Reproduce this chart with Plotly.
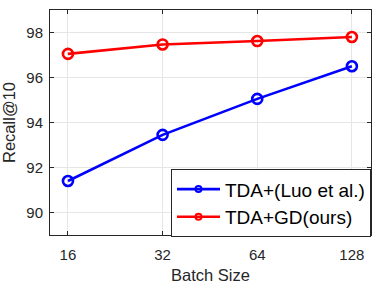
import plotly.graph_objects as go

batch_sizes = [16, 32, 64, 128]
tick_labels = ["16", "32", "64", "128"]
y_ticks = [90, 92, 94, 96, 98]
tda_luo = [91.4, 93.45, 95.05, 96.5]
tda_gd = [97.05, 97.47, 97.62, 97.8]

FONT = "Liberation Sans, Arial, Helvetica"
fig = go.Figure()
series = [("TDA+(Luo et al.)", tda_luo, "#0000ff"), ("TDA+GD(ours)", tda_gd, "#ff0000")]
for name, vals, col in series:
    fig.add_trace(go.Scatter(x=batch_sizes, y=vals, mode="lines+markers", name=name,
                             showlegend=False,
                             line=dict(color=col, width=2.6),
                             marker=dict(symbol="circle-open", size=10, color=col, line=dict(width=2.6))))
for name, vals, col in series:
    # legend entry with the smaller legend marker
    fig.add_trace(go.Scatter(x=[None], y=[None], mode="lines+markers", name=name,
                             showlegend=True,
                             line=dict(color=col, width=2.6),
                             marker=dict(symbol="circle-open", size=6, color=col, line=dict(width=2))))

axis_common = dict(showline=True, linecolor="#262626", linewidth=1, mirror="ticks",
                   ticks="inside", ticklen=4, tickcolor="#262626", automargin=False,
                   showgrid=True, gridcolor="#e6e6e6", gridwidth=1, zeroline=False,
                   tickfont=dict(family=FONT, size=15, color="#262626"))

fig.update_layout(
    width=382, height=286,
    margin=dict(l=50, r=11, t=10, b=51),
    paper_bgcolor="white", plot_bgcolor="white",
    xaxis=dict(type="log", range=[1.147, 2.168], tickvals=batch_sizes, ticktext=tick_labels,
               ticklabelstandoff=6,
               title=dict(text="Batch Size", font=dict(family=FONT, size=16.5, color="#262626"), standoff=7),
               **axis_common),
    yaxis=dict(range=[89, 99], tickvals=y_ticks, ticklabelstandoff=3,
               title=dict(text="Recall@10", font=dict(family=FONT, size=16.5, color="#262626"), standoff=8),
               **axis_common),
    legend=dict(x=1, y=-0.01, xanchor="right", yanchor="bottom", bgcolor="white",
                bordercolor="#262626", borderwidth=1,
                font=dict(family=FONT, size=19, color="black"),
                tracegroupgap=0, itemwidth=43),
    showlegend=True,
)

fig.write_html("out.html", config={"displayModeBar": False},
               post_script="document.body.style.margin='0px';")
